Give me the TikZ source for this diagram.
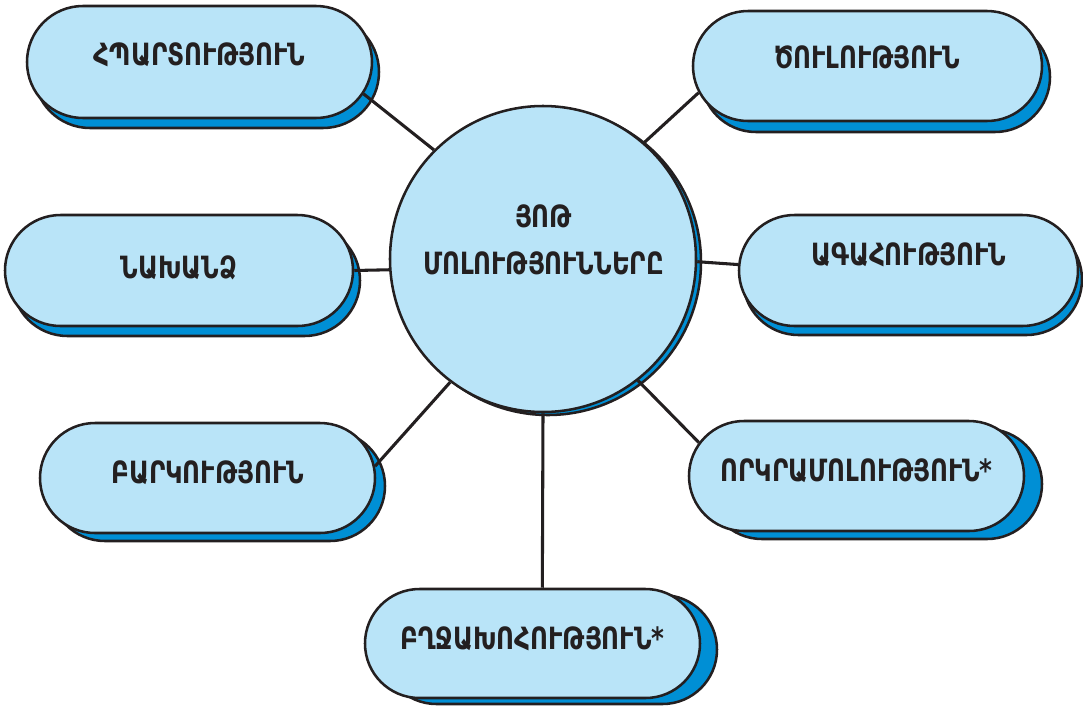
\documentclass[tikz,border=0pt]{standalone}
\usepackage{fontspec}
\setmainfont{DejaVu Sans}
\newfontfamily\armfont{DejaVu Sans}[FakeStretch=0.8]
\usetikzlibrary{shapes.misc}
\definecolor{lightfill}{RGB}{185,228,248}
\definecolor{shadowblue}{RGB}{0,143,213}
\definecolor{inkline}{RGB}{35,31,32}
\tikzset{
  pillbase/.style={rounded rectangle, draw=inkline, line width=1.9pt, inner sep=0pt},
  shadowpill/.style={pillbase, fill=shadowblue},
  frontpill/.style={pillbase, fill=lightfill},
  pilltext/.style={inner sep=0pt, text=inkline, font=\armfont\bfseries\fontsize{23}{27}\selectfont},
  connector/.style={draw=inkline, line width=2.3pt},
}
\newcommand\vicebox[9]{%
  \node[shadowpill, minimum width=#4*0.75pt, minimum height=#5*0.75pt] (#1s) at (#2+#6,#3+#7) {};
  \node[frontpill, minimum width=#4*0.75pt, minimum height=#5*0.75pt] (#1) at (#2,#3) {};
  \node[pilltext] (#1t) at (#2,#3-#9) {#8};
}
\begin{document}
\begin{tikzpicture}[x=0.75pt,y=-0.75pt]
\useasboundingbox (0,0) rectangle (1083,708);
% centre circle
\node[circle, draw=inkline, line width=1.9pt, fill=shadowblue, minimum size=306*0.75pt, inner sep=0pt] (cs) at (548,262) {};
\node[circle, draw=inkline, line width=1.9pt, fill=lightfill, minimum size=306*0.75pt, inner sep=0pt] (c) at (543,259) {};
\node[pilltext, align=center, font=\armfont\bfseries\fontsize{23}{35.6}\selectfont] (ct) at (543.5,240) {ՅՈԹ\\ՄՈԼՈՒԹՅՈՒՆՆԵՐԸ};
% boxes
\vicebox{hpart}{199.5}{62}{345}{112}{7}{10}{ՀՊԱՐՏՈՒԹՅՈՒՆ}{7}
\vicebox{tsul}{867.5}{66}{349}{110}{8}{11}{ԾՈՒԼՈՒԹՅՈՒՆ}{8.5}
\vicebox{nakh}{179}{270.5}{348}{111}{7}{10}{ՆԱԽԱՆՁ}{3}
\vicebox{agah}{908.5}{270.5}{339}{111}{4}{9}{ԱԳԱՀՈՒԹՅՈՒՆ}{16}
\vicebox{bark}{207.5}{478}{335}{110}{10}{8}{ԲԱՐԿՈՒԹՅՈՒՆ}{5}
\vicebox{vorkr}{856.5}{476}{335}{110}{18}{8}{ՈՐԿՐԱՄՈԼՈՒԹՅՈՒՆ*}{5.5}
\vicebox{bghj}{532.5}{643.5}{335}{109}{17}{6}{ԲՂՋԱԽՈՀՈՒԹՅՈՒՆ*}{4.5}
% connectors
\draw[connector] (c.135) -- (hpart.-11.6);
\draw[connector] (c.49.4) -- (tsul.-171.3);
\draw[connector] (c.-176.25) -- (nakh.0.5);
\draw[connector] (c.-1.5) -- (agah.178.1);
\draw[connector] (c.-127.7) -- (bark.4.5);
\draw[connector] (c.-52) -- (vorkr.168.3);
\draw[connector] (c.-90) -- (bghj.80);
\end{tikzpicture}
\end{document}
